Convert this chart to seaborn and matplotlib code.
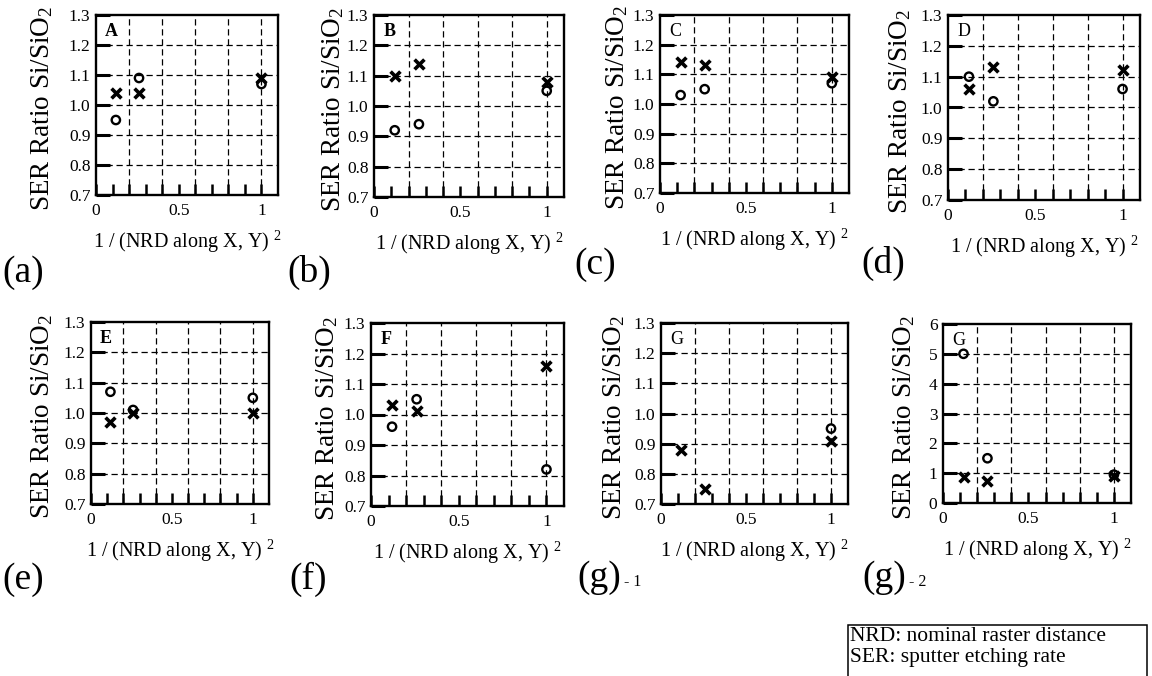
import numpy as np
import pandas as pd
import matplotlib
matplotlib.use("Agg")
import matplotlib.pyplot as plt
from matplotlib.patches import Rectangle
import seaborn as sns

# Horizontal position of each raster setting: 1 / (NRD along X, Y)^2
nrd_inv_sq = [0.12, 0.26, 1.0]

# SER ratio Si/SiO2 per specimen (circle series and cross series)
a_circle = [0.95, 1.09, 1.07]
a_cross = [1.04, 1.04, 1.09]
b_circle = [0.92, 0.94, 1.05]
b_cross = [1.10, 1.14, 1.08]
c_circle = [1.03, 1.05, 1.07]
c_cross = [1.14, 1.13, 1.09]
d_circle = [1.10, 1.02, 1.06]
d_cross = [1.06, 1.13, 1.12]
e_circle = [1.07, 1.01, 1.05]
e_cross = [0.97, 1.00, 1.00]
f_circle = [0.96, 1.05, 0.82]
f_cross = [1.03, 1.01, 1.16]
g_circle = [5.0, 1.5, 0.95]
g_cross = [0.88, 0.75, 0.91]

y_ticks_narrow = [0.7, 0.8, 0.9, 1.0, 1.1, 1.2, 1.3]
y_labels_narrow = ["0.7", "0.8", "0.9", "1.0", "1.1", "1.2", "1.3"]
y_ticks_wide = [0, 1, 2, 3, 4, 5, 6]
y_labels_wide = ["0", "1", "2", "3", "4", "5", "6"]
x_ticks = [0.0, 0.1, 0.2, 0.3, 0.4, 0.5, 0.6, 0.7, 0.8, 0.9, 1.0]
x_labels = ["0", "", "", "", "", "0.5", "", "", "", "", "1"]

series = {
    "A": (a_circle, a_cross), "B": (b_circle, b_cross),
    "C": (c_circle, c_cross), "D": (d_circle, d_cross),
    "E": (e_circle, e_cross), "F": (f_circle, f_cross),
    "G": (g_circle, g_cross),
}
rows = []
for key, (circ, cross) in series.items():
    for xv, yv in zip(nrd_inv_sq, circ):
        rows.append((key, xv, yv, "circle"))
    for xv, yv in zip(nrd_inv_sq, cross):
        rows.append((key, xv, yv, "cross"))
df = pd.DataFrame(rows, columns=["specimen", "nrd", "ratio", "kind"])

sns.set_theme(style="white")
plt.rcParams["font.family"] = ["Liberation Serif", "DejaVu Serif"]
plt.rcParams["mathtext.fontset"] = "custom"
plt.rcParams["mathtext.rm"] = "Liberation Serif"
plt.rcParams["mathtext.it"] = "Liberation Serif:italic"
plt.rcParams["mathtext.bf"] = "Liberation Serif:bold"
for k in ["text.color", "axes.labelcolor", "xtick.color", "ytick.color", "axes.edgecolor"]:
    plt.rcParams[k] = "black"
plt.rcParams.update({
    "axes.axisbelow": False,
    "xtick.bottom": True, "ytick.left": True,
    "xtick.direction": "in", "ytick.direction": "in",
})

W, H = 1152, 676
fig = plt.figure(figsize=(W / 100, H / 100), dpi=100)
fig.patch.set_facecolor("white")


def px_rect(l, t, r, b):
    return [l / W, 1 - b / H, (r - l) / W, (b - t) / H]


# specimen, inside letter, bold, wide y-range, panel tag, axes box (px), ylabel offset (px)
panels = [
    ("A", "A", True, False, "(a)", (96, 15, 278, 195), 41),
    ("B", "B", True, False, "(b)", (374, 15, 564, 197), 28),
    ("C", "C", False, False, "(c)", (660, 15, 849, 193), 30),
    ("D", "D", False, False, "(d)", (948, 15, 1140, 200), 35),
    ("E", "E", True, False, "(e)", (91, 322, 269, 504), 36),
    ("F", "F", True, False, "(f)", (371, 323, 564, 506), 31),
    ("G", "G", False, False, "(g)", (661, 323, 848, 504), 34),
    ("G", "G", False, True, "(g)", (943, 324, 1131, 503), 26),
]
tag_pos = [(2, 282), (287, 282), (574, 274), (861, 273),
           (2, 589), (289, 589), (577, 587), (862, 587)]
tag_suffix = [None, None, None, None, None, None, "- 1", "- 2"]

grid_x = [0.2, 0.4, 0.6, 0.8, 1.0]
dash = (0, (5, 3))

for i, (key, letter, bold, wide, tag, box, ylab_off) in enumerate(panels):
    ax = fig.add_axes(px_rect(*box))
    ax.set_facecolor("white")
    sub = df[df["specimen"] == key]
    yt = y_ticks_wide if wide else y_ticks_narrow
    yl = y_labels_wide if wide else y_labels_narrow

    for gx in grid_x:
        ax.axvline(gx, color="black", lw=0.9, ls=dash, zorder=1)
    for gy in yt[1:-1]:
        ax.axhline(gy, color="black", lw=0.9, ls=dash, zorder=1)

    sns.scatterplot(data=sub[sub["kind"] == "circle"], x="nrd", y="ratio",
                    marker="o", s=36, color="black", facecolor="none",
                    edgecolor="black", linewidth=1.7, ax=ax, zorder=3, legend=False)
    sns.scatterplot(data=sub[sub["kind"] == "cross"], x="nrd", y="ratio",
                    marker="x", s=50, color="black", linewidth=2.6,
                    ax=ax, zorder=3, legend=False)

    ax.set_xlim(0, 1.1)
    ax.set_ylim(yt[0], yt[-1])
    ax.set_xticks(x_ticks)
    ax.set_xticklabels(x_labels)
    ax.set_yticks(yt)
    ax.set_yticklabels(yl)
    ax.tick_params(axis="x", which="major", bottom=True, top=False, direction="in",
                   length=8, width=1.8, pad=6, labelsize=12.5, color="black")
    ax.tick_params(axis="y", which="major", left=True, right=False, direction="in",
                   length=10, width=2.2, pad=4, labelsize=12.5, color="black")
    for sp in ax.spines.values():
        sp.set_linewidth(1.7)
        sp.set_color("black")
        sp.set_visible(True)

    w_px = box[2] - box[0]
    h_px = box[3] - box[1]
    ax.set_ylabel("SER Ratio Si/SiO$_2$", fontsize=19.5)
    ax.yaxis.set_label_coords(-ylab_off / w_px, 0.48)
    ax.set_xlabel("1 / (NRD along X, Y) $^2$", fontsize=14.5)
    ax.xaxis.set_label_coords(0.5, -34 / h_px)

    ax.text(0.05, 0.955, letter, transform=ax.transAxes, ha="left", va="top",
            fontsize=13, fontweight="bold" if bold else "normal", zorder=4)

    tx, ty = tag_pos[i]
    fig.text(tx / W, 1 - ty / H, tag, fontsize=27, ha="left", va="baseline")
    if tag_suffix[i]:
        fig.text((tx + 47) / W, 1 - (ty - 1) / H, tag_suffix[i], fontsize=11.5,
                 ha="left", va="baseline")

# Abbreviation key
fig.add_artist(Rectangle((848 / W, -0.05), 299 / W, (676 - 625) / H + 0.05,
                         transform=fig.transFigure, fill=False, ec="black", lw=1.1))
fig.text(850 / W, 1 - 641 / H, "NRD: nominal raster distance", fontsize=15.5, va="baseline")
fig.text(850 / W, 1 - 662 / H, "SER: sputter etching rate", fontsize=15.5, va="baseline")

fig.savefig("out.png", dpi=100, facecolor="white")
